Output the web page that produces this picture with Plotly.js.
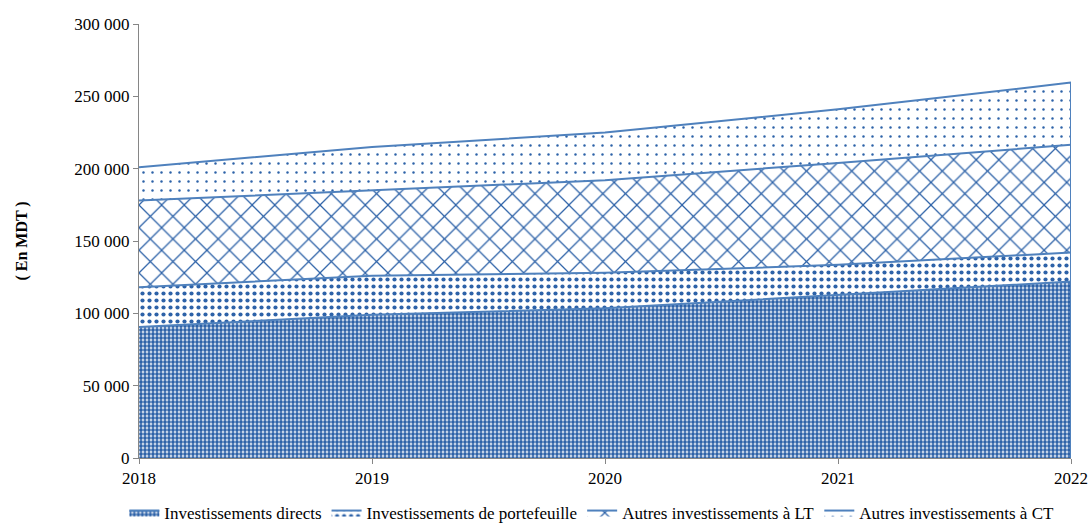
<!DOCTYPE html>
<html>
<head>
<meta charset="utf-8">
<script src="https://cdn.plot.ly/plotly-3.0.1.min.js"></script>
<style>html,body{margin:0;padding:0;background:#fff}#chart{width:1090px;height:531px}</style>
</head>
<body>
<div id="chart"></div>
<script>
const years = [2018, 2019, 2020, 2021, 2022];
const investDirects = [90500, 99000, 103500, 112500, 122000];
const investPortefeuille = [27500, 27000, 24500, 21000, 20000];
const autresLT = [60000, 59000, 64000, 70500, 74500];
const autresCT = [23000, 30000, 33000, 37000, 43000];
const seriesNames = ["Investissements directs", "Investissements de portefeuille", "Autres investissements à LT", "Autres investissements à CT"];

const lineColor = "#4f81bd";
const patColor = "#2d62a8";
const fnt = "Liberation Serif, Times New Roman, serif";

function area(name, y, shape, size, solidity) {
  return {
    type: "scatter", mode: "lines", x: years, y: y, name: name,
    stackgroup: "one",
    line: {color: lineColor, width: 2},
    fillcolor: "white",
    fillpattern: {shape: shape, fgcolor: patColor, bgcolor: "white", size: size, solidity: solidity}
  };
}
const totals = years.map((_, i) => investDirects[i] + investPortefeuille[i] + autresLT[i] + autresCT[i]);
const last = years.length - 1;
const data = [
  area(seriesNames[0], investDirects, ".", 4, 0.7),
  area(seriesNames[1], investPortefeuille, ".", 7, 0.28),
  area(seriesNames[2], autresLT, "x", 16, 0.15),
  area(seriesNames[3], autresCT, ".", 9, 0.06),
  {type: "scatter", mode: "lines", x: [years[last], years[last]], y: [0, totals[last]],
   line: {color: lineColor, width: 2}, showlegend: false, hoverinfo: "skip"}
];

const layout = {
  width: 1090, height: 531,
  margin: {l: 139, r: 19, t: 24, b: 73},
  paper_bgcolor: "white", plot_bgcolor: "white",
  separators: ", ",
  font: {family: fnt, size: 17, color: "#000"},
  showlegend: true,
  legend: {orientation: "h", x: 0.543, xanchor: "center", xref: "container",
           y: -0.012, yanchor: "bottom", yref: "container",
           traceorder: "normal", font: {family: fnt, size: 17}, itemwidth: 30,
           bgcolor: "rgba(0,0,0,0)"},
  xaxis: {
    range: [2018, 2022], tickvals: years, ticktext: years.map(String),
    showgrid: false, zeroline: false, showline: true, linecolor: "#868686", linewidth: 1,
    ticks: "outside", ticklen: 5, tickcolor: "#868686",
    tickfont: {family: fnt, size: 17}
  },
  yaxis: {
    range: [0, 300000], dtick: 50000, tickformat: ",.0f",
    showgrid: false, zeroline: false, showline: true, linecolor: "#868686", linewidth: 1,
    ticks: "outside", ticklen: 5, tickcolor: "#868686",
    tickfont: {family: fnt, size: 17},
    title: {text: "( En MDT )", font: {family: fnt, size: 16, weight: "bold"}, standoff: 42}
  }
};
Plotly.newPlot("chart", data, layout, {displayModeBar: false, staticPlot: true});
</script>
</body>
</html>
